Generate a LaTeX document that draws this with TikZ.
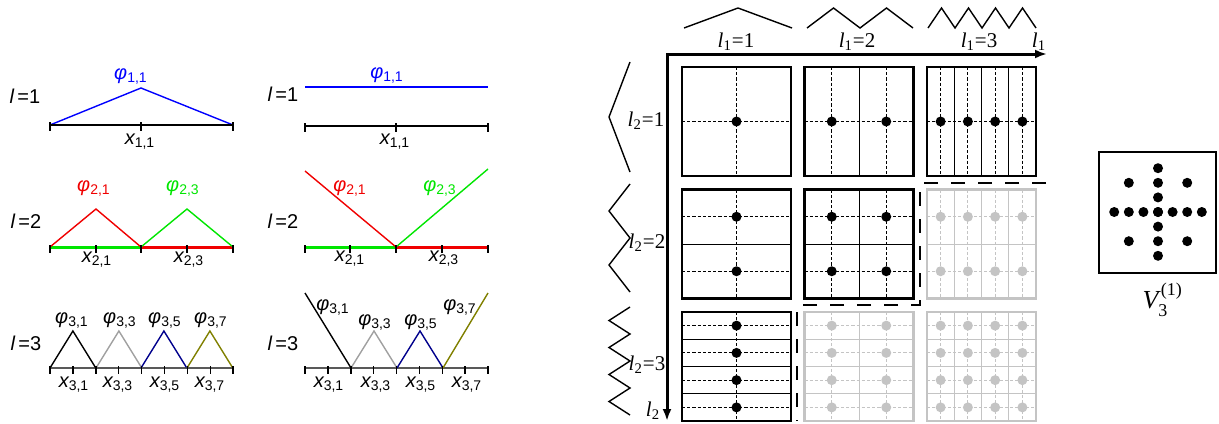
\documentclass[tikz,border=0pt]{standalone}
\usepackage{fontspec}
\setmainfont{Liberation Serif}
\newfontfamily\helv{Liberation Sans}
\usetikzlibrary{arrows.meta}
\definecolor{hatBlue}{HTML}{0000FF}
\definecolor{hatRed}{HTML}{F00000}
\definecolor{hatGreen}{HTML}{00E600}
\definecolor{hatGray}{HTML}{A0A0A0}
\definecolor{hatNavy}{HTML}{00008C}
\definecolor{hatOlive}{HTML}{808000}
\definecolor{sgGray}{HTML}{C4C4C4}

\newcommand{\phiLab}[1]{{\itshape φ}\textsubscript{#1}}
\newcommand{\xLab}[1]{{\itshape x}\textsubscript{#1}}
\newcommand{\lev}[1]{{\itshape l}\,=#1}
\newcommand{\lsub}[2]{{\itshape l}\textsubscript{#1}=#2}

% one subspace block: column, row, colour
\newcommand{\sgblock}[3]{%
  \pgfmathsetmacro{\blkx}{682+(#1-1)*122.5}%
  \pgfmathsetmacro{\blky}{67+(#2-1)*122.5}%
  \pgfmathtruncatemacro{\blknx}{2^(#1-1)}%
  \pgfmathtruncatemacro{\blkny}{2^(#2-1)}%
  \pgfmathsetmacro{\blkdx}{109/\blknx}%
  \pgfmathsetmacro{\blkdy}{109/\blkny}%
  \foreach \k in {1,...,\blknx}
    \draw[cellline,#3] ({\blkx+\k*\blkdx},\blky) -- ++(0,109);
  \foreach \k in {1,...,\blkny}
    \draw[cellline,#3] (\blkx,{\blky+\k*\blkdy}) -- ++(109,0);
  \foreach \k in {1,...,\blknx}
    \draw[midline,#3] ({\blkx+(\k-0.5)*\blkdx},\blky) -- ++(0,109);
  \foreach \k in {1,...,\blkny}
    \draw[midline,#3] (\blkx,{\blky+(\k-0.5)*\blkdy}) -- ++(109,0);
  \foreach \k in {1,...,\blknx}
    \foreach \m in {1,...,\blkny}
      \fill[#3] ({\blkx+(\k-0.5)*\blkdx},{\blky+(\m-0.5)*\blkdy}) circle (2.5pt);
  \draw[blockframe,#3] (\blkx,\blky) rectangle ++(109,109);
}

\begin{document}
\begin{tikzpicture}[x=0.5pt,y=-0.5pt,
  lab/.style={font=\helv\fontsize{10}{12}\selectfont,inner sep=0pt},
  slab/.style={font=\fontsize{10.5}{12}\selectfont,inner sep=0pt},
  hat/.style={line width=0.7pt},
  axis/.style={line width=0.75pt},
  tick/.style={line width=0.75pt},
  half/.style={line width=1.5pt},
  wave/.style={line width=0.7pt},
  cellline/.style={line width=0.5pt},
  midline/.style={line width=0.45pt,dash pattern=on 1.6pt off 1pt},
  blockframe/.style={line width=1.3pt},
  stair/.style={line width=1.4pt,dash pattern=on 7pt off 6.5pt}]
\useasboundingbox (0,0) rectangle (1219,423);

% hierarchical hats
\node[lab] (lv1a) at (25,96) {\lev{1}};
\draw[hat,hatBlue] (50,125) -- (141,88) -- (233,125);
\draw[axis] (50,125) -- (233,125);
\foreach \t in {50,141,233} \draw[tick] (\t,122) -- (\t,131);
\node[lab,hatBlue] (p11a) at (131,76) {\phiLab{1,1}};
\node[lab] (x11a) at (140,142) {\xLab{1,1}};

\node[lab] (lv2a) at (26,221) {\lev{2}};
\draw[half,hatGreen] (50,247) -- (141,247);
\draw[half,hatRed] (141,247) -- (233,247);
\draw[hat,hatRed] (50,247) -- (96,209) -- (141,247);
\draw[hat,hatGreen] (141,247) -- (187,209) -- (233,247);
\foreach \t in {50,96,141,187,233} \draw[tick] (\t,245) -- (\t,253);
\node[lab,hatRed] (p21a) at (94,188) {\phiLab{2,1}};
\node[lab,hatGreen] (p23a) at (183,188) {\phiLab{2,3}};
\node[lab] (x21a) at (97,260) {\xLab{2,1}};
\node[lab] (x23a) at (189,260) {\xLab{2,3}};

\node[lab] (lv3a) at (26,343) {\lev{3}};
\draw[axis,black!65] (50,368) -- (233,368);
\foreach \a/\c in {50/black,96/hatGray,141/hatNavy,187/hatOlive}
  \draw[hat,\c] (\a,368) -- ++(22.9,-37) -- ++(22.9,37);
\foreach \k in {0,...,8} \draw[tick] ({50+\k*22.9},366) -- ++(0,8);
\foreach \n/\px in {1/72,3/120,5/165,7/211}
  \node[lab] (p3\n a) at (\px,320) {\phiLab{3,\n}};
\foreach \n/\px in {1/74,3/118,5/165,7/210}
  \node[lab] (x3\n a) at (\px,385) {\xLab{3,\n}};

% nodal hats
\node[lab] (lv1b) at (283,94) {\lev{1}};
\draw[hat,hatBlue] (305,87) -- (488,87);
\draw[axis] (305,126) -- (488,126);
\foreach \t in {305,396,488} \draw[tick] (\t,123) -- (\t,132);
\node[lab,hatBlue] (p11b) at (387,75) {\phiLab{1,1}};
\node[lab] (x11b) at (395,142) {\xLab{1,1}};

\node[lab] (lv2b) at (283,221) {\lev{2}};
\draw[half,hatGreen] (305,247) -- (396,247);
\draw[half,hatRed] (396,247) -- (488,247);
\draw[hat,hatRed] (305,171) -- (396,247);
\draw[hat,hatGreen] (396,247) -- (488,169);
\foreach \t in {305,350,396,442,488} \draw[tick] (\t,245) -- (\t,253);
\node[lab,hatRed] (p21b) at (350,188) {\phiLab{2,1}};
\node[lab,hatGreen] (p23b) at (440,188) {\phiLab{2,3}};
\node[lab] (x21b) at (350,259) {\xLab{2,1}};
\node[lab] (x23b) at (444,259) {\xLab{2,3}};

\node[lab] (lv3b) at (283,343) {\lev{3}};
\draw[axis,black!65] (305,368) -- (488,368);
\draw[hat] (305,293) -- (351,368);
\draw[hat,hatGray] (351,368) -- (374,331) -- (397,368);
\draw[hat,hatNavy] (397,368) -- (420,331) -- (443,368);
\draw[hat,hatOlive] (443,368) -- (488,293);
\foreach \k in {0,...,8} \draw[tick] ({305+\k*22.875},366) -- ++(0,8);
\node[lab] (p31b) at (333,307) {\phiLab{3,1}};
\node[lab] (p33b) at (375,322) {\phiLab{3,3}};
\node[lab] (p35b) at (421,322) {\phiLab{3,5}};
\node[lab] (p37b) at (460,307) {\phiLab{3,7}};
\foreach \n/\px in {1/329,3/376,5/421,7/467}
  \node[lab] (x3\n b) at (\px,385) {\xLab{3,\n}};

% subspace scheme
\draw[line width=0.7pt] (684,28) -- (738,8) -- (792,28);
\draw[wave] (807,28) -- (833.5,8) -- (860,28) -- (886.5,8) -- (913,28);
\draw[wave] (928,28) \foreach \k in {1,...,4} { -- ++(13.5,-20) -- ++(13.5,20) };
\draw[wave] (630,62) -- (609,117) -- (630,172);
\draw[wave] (630,184) \foreach \k in {1,2} { -- ++(-21,27) -- ++(21,27) };
\draw[wave] (630,307) \foreach \k in {1,...,4} { -- ++(-21,13.5) -- ++(21,13.5) };

\node[slab] (c1) at (736,42) {\lsub{1}{1}};
\node[slab] (c2) at (857,42) {\lsub{1}{2}};
\node[slab] (c3) at (979,42) {\lsub{1}{3}};
\node[slab] (r1) at (646,121) {\lsub{2}{1}};
\node[slab] (r2) at (647,243) {\lsub{2}{2}};
\node[slab] (r3) at (647,365) {\lsub{2}{3}};
\node[slab] (l1ax) at (1039,42) {{\itshape l}\textsubscript{1}};
\node[slab] (l2ax) at (653,411) {{\itshape l}\textsubscript{2}};

\draw[line width=1.5pt,-{Latex[length=6pt,width=4.5pt]}] (666,54) -- (1047,54);
\draw[line width=1.5pt,-{Latex[length=6pt,width=4.5pt]}] (667,53) -- (667,421);

\sgblock{1}{1}{black}
\sgblock{2}{1}{black}
\sgblock{3}{1}{black}
\sgblock{1}{2}{black}
\sgblock{2}{2}{black}
\sgblock{1}{3}{black}
\sgblock{3}{2}{sgGray}
\sgblock{2}{3}{sgGray}
\sgblock{3}{3}{sgGray}

\draw[stair] (1046,183) -- (920,183) -- (920,305) -- (797,305) -- (797,421);

% sparse grid
\draw[line width=1.3pt] (1099,152) rectangle (1216,273);
\foreach \k in {-3,...,3} {
  \fill ({1158+\k*14.6},212) circle (2.5pt);
  \fill (1158,{212+\k*14.6}) circle (2.5pt);
}
\foreach \a/\b in {-2/-2,2/-2,-2/2,2/2}
  \fill ({1158+\a*14.6},{212+\b*14.6}) circle (2.5pt);
\node[font=\fontsize{13}{15}\selectfont,inner sep=0pt] (v31) at (1155,300)
  {{\itshape V}\rlap{\kern1.2pt\raisebox{6.5pt}{\fontsize{9}{10}\selectfont(1)}}\raisebox{-3.8pt}{\fontsize{9}{10}\selectfont 3}};
\end{tikzpicture}
\end{document}
